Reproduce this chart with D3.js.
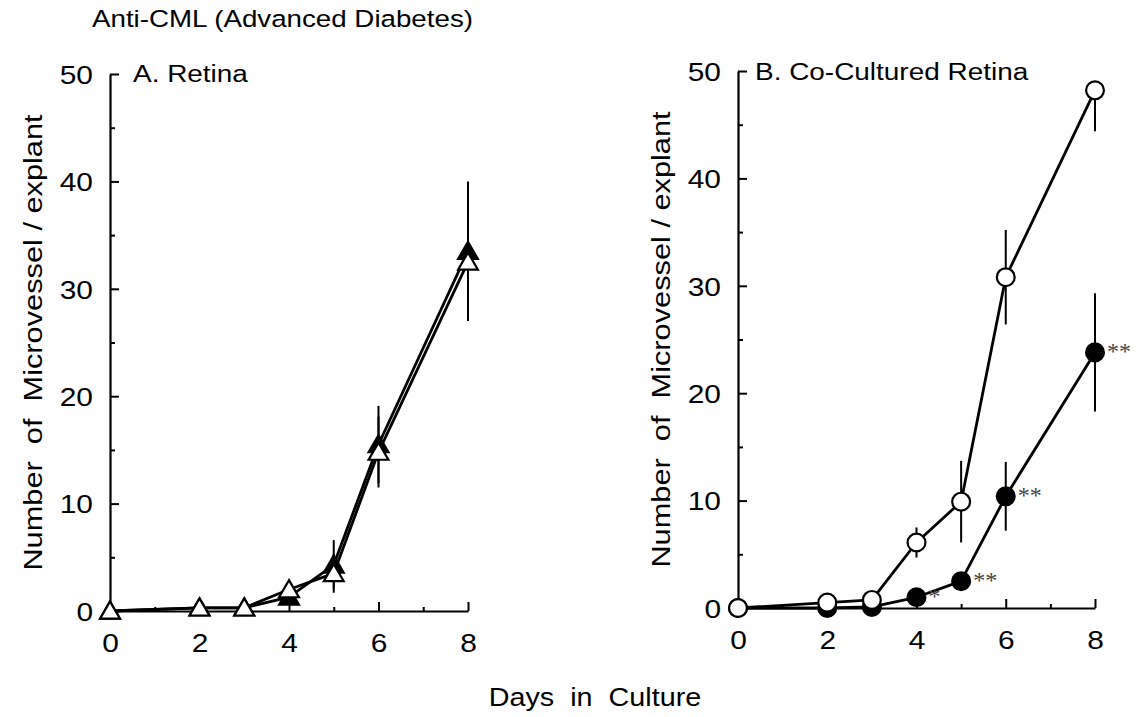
<!DOCTYPE html>
<html><head><meta charset="utf-8">
<script src="https://cdn.jsdelivr.net/npm/d3@7"></script>
<style>
html,body{margin:0;padding:0;background:#fff;}
svg text{font-family:"Liberation Sans",Arial,Helvetica,sans-serif;fill:#000;white-space:pre;}
</style></head>
<body>
<svg id="chart" width="1137" height="717"></svg>
<script>
// ---- data ----
const days = [0, 2, 3, 4, 5, 6, 8];
const xTicksMajor = [0, 2, 4, 6, 8];
const xTicksMinor = [1, 3, 5, 7];
const yTicksMajor = [0, 10, 20, 30, 40, 50];
const yTicksMinor = [5, 15, 25, 35, 45];

// Panel A (Retina): triangles
const retinaOpen = [0, 0.3, 0.3, 2.0, 3.5, 14.8, 32.5];
const retinaOpenErr = [0, 0, 0, 0.4, 1.8, 3.3, 5.0];
const retinaFilled = [0, 0.3, 0.3, 1.3, 4.3, 15.5, 33.5];
const retinaFilledErr = [0, 0, 0, 0.4, 2.3, 3.6, 6.5];

// Panel B (Co-Cultured Retina): circles
const coOpen = [0, 0.5, 0.75, 6.1, 9.9, 30.8, 48.2];
const coOpenErr = [0, 0, 0, 1.4, 3.8, 4.4, 3.8];
const coFilled = [0, 0, 0.1, 1.0, 2.5, 10.4, 23.8];
const coFilledErr = [0, 0, 0, 0.3, 0.4, 3.2, 5.5];
const coFilledSig = ["", "", "", "*", "**", "**", "**"];

const titleText = "Anti-CML (Advanced Diabetes)";
const panelATitle = "A. Retina";
const panelBTitle = "B. Co-Cultured Retina";
const yTitle = "Number  of  Microvessel / explant";
const xTitle = "Days  in  Culture";

// ---- drawing ----
const svg = d3.select("#chart");
const SX = 1.15; // horizontal stretch of the original lettering

svg.append("text").attr("transform", "translate(92,27) scale(1.18,1)")
  .attr("font-size", 23.5).text(titleText);

function panel(cfg) {
  const x = d3.scaleLinear().domain([0, 8]).range(cfg.xr);
  const y = d3.scaleLinear().domain([0, 50]).range(cfg.yr);
  const g = svg.append("g");

  // axes
  const xAxis = g.append("g").attr("transform", `translate(0,${y(0)})`)
    .call(d3.axisBottom(x).tickValues(xTicksMajor).tickSizeInner(-9).tickSizeOuter(0).tickPadding(22));
  g.append("g").attr("transform", `translate(0,${y(0)})`)
    .call(d3.axisBottom(x).tickValues(xTicksMinor).tickSizeInner(-4).tickSizeOuter(0).tickFormat(""))
    .select(".domain").remove();
  const yAxis = g.append("g").attr("transform", `translate(${x(0)},0)`)
    .call(d3.axisLeft(y).tickValues(yTicksMajor).tickSizeInner(-9).tickSizeOuter(0).tickPadding(17));
  g.append("g").attr("transform", `translate(${x(0)},0)`)
    .call(d3.axisLeft(y).tickValues(yTicksMinor).tickSizeInner(-5).tickSizeOuter(0).tickFormat(""))
    .select(".domain").remove();
  g.selectAll(".domain").attr("stroke", "#000").attr("stroke-width", 2.2);
  g.selectAll(".tick line").attr("stroke", "#000").attr("stroke-width", 2);
  xAxis.selectAll("text").attr("font-size", 26).attr("font-family", null)
    .attr("y", null).attr("dy", null).attr("transform", `translate(0,41) scale(${SX},1)`);
  yAxis.selectAll("text").attr("font-size", 26).attr("font-family", null)
    .attr("x", null).attr("dy", "0.36em").attr("transform", `translate(-17,0) scale(${SX},1)`);

  // panel title
  g.append("text").attr("transform", `translate(${cfg.titleX},${cfg.titleY}) scale(${SX},1)`)
    .attr("font-size", 24.3).text(cfg.title);
  // y title
  g.append("text").attr("transform", `translate(${cfg.yTitleX},${(cfg.yr[0]+cfg.yr[1])/2}) rotate(-90) scale(1.23,1)`)
    .attr("text-anchor", "middle").attr("font-size", 25).text(yTitle);

  const line = d3.line().x((d, i) => x(days[i])).y(d => y(d));

  // error bars
  cfg.series.forEach(s => {
    const eg = g.append("g");
    s.values.forEach((v, i) => {
      const e = s.err[i];
      if (!e) return;
      const top = v + e <= 50 ? v + e : v;
      eg.append("line").attr("x1", x(days[i])).attr("x2", x(days[i]))
        .attr("y1", y(top)).attr("y2", y(Math.max(0, v - e)))
        .attr("stroke", "#000").attr("stroke-width", 2);
    });
  });
  // lines
  cfg.series.forEach(s => {
    g.append("path").datum(s.values).attr("d", line)
      .attr("fill", "none").attr("stroke", "#000").attr("stroke-width", 2.8)
      .attr("stroke-linejoin", "round");
  });
  // markers
  cfg.series.forEach(s => {
    const sym = d3.symbol().type(s.shape).size(s.size);
    g.append("g").selectAll("path").data(s.values).join("path")
      .attr("transform", (d, i) => `translate(${x(days[i])},${y(d) + (s.shape === d3.symbolTriangle ? 2 : 0)})`)
      .attr("d", sym)
      .attr("fill", s.filled ? "#000" : "#fff")
      .attr("stroke", "#000").attr("stroke-width", 2.2);
    if (s.sig) {
      g.append("g").selectAll("text").data(s.values).join("text")
        .attr("x", (d, i) => x(days[i]) + 12)
        .attr("y", d => y(d) + 7)
        .style("font-family", '"Liberation Serif","Times New Roman",serif')
        .style("fill", "#444")
        .attr("font-size", 24)
        .text((d, i) => s.sig[i]);
    }
  });
}

panel({
  xr: [110, 468], yr: [611, 74],
  title: panelATitle, titleX: 133, titleY: 82, yTitleX: 42,
  series: [
    { values: retinaFilled, err: retinaFilledErr, shape: d3.symbolTriangle, size: 170, filled: true },
    { values: retinaOpen, err: retinaOpenErr, shape: d3.symbolTriangle, size: 170, filled: false }
  ]
});

panel({
  xr: [738, 1095], yr: [608, 71],
  title: panelBTitle, titleX: 755, titleY: 80, yTitleX: 670,
  series: [
    { values: coFilled, err: coFilledErr, shape: d3.symbolCircle, size: 250, filled: true, sig: coFilledSig },
    { values: coOpen, err: coOpenErr, shape: d3.symbolCircle, size: 250, filled: false }
  ]
});

svg.append("text").attr("transform", `translate(595,706) scale(${SX},1)`)
  .attr("text-anchor", "middle").attr("font-size", 25).text(xTitle);
</script>
</body></html>
